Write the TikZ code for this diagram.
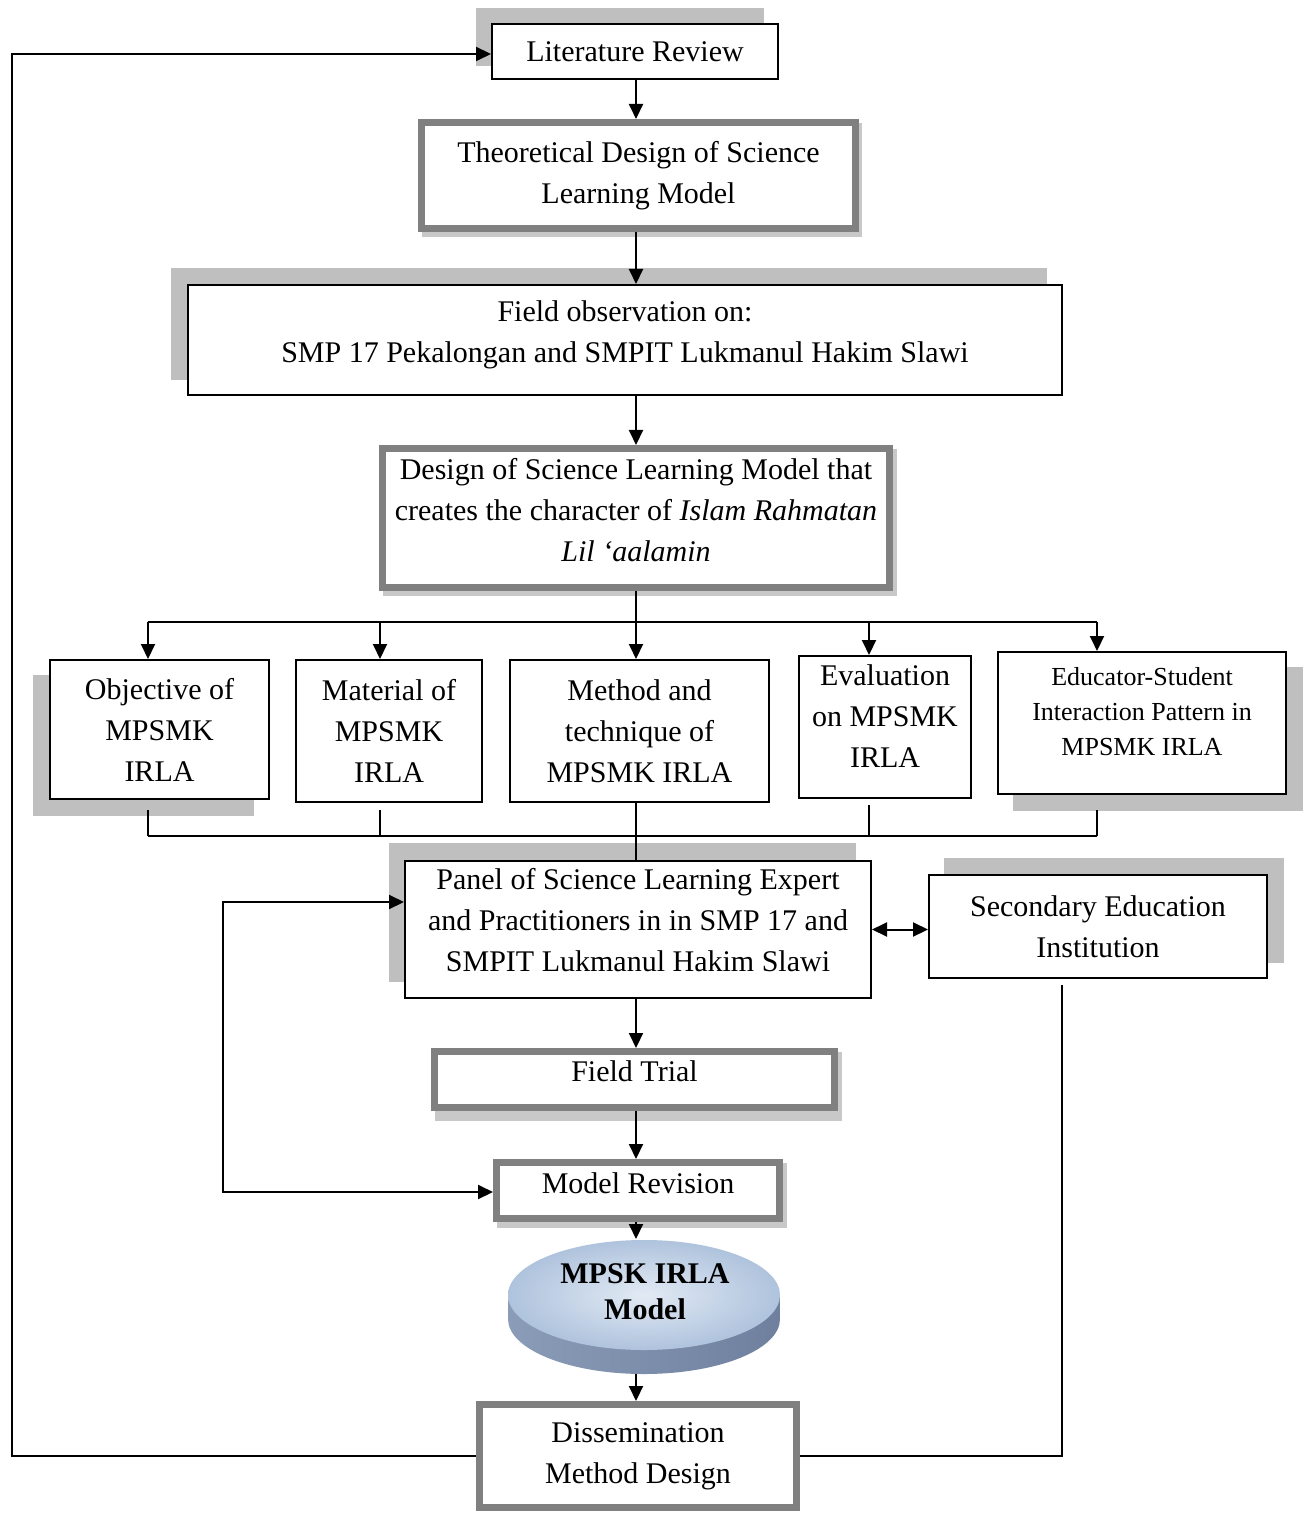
\documentclass[tikz,border=0pt]{standalone}
\usepackage{fontspec}
\setmainfont{Liberation Serif}
\usetikzlibrary{arrows.meta}
\definecolor{shadowgray}{HTML}{BFBFBF}
\definecolor{framegray}{HTML}{808080}
\definecolor{lightshade}{HTML}{C8C8C8}
\definecolor{cylTopIn}{HTML}{E2EAF4}
\definecolor{cylTopOut}{HTML}{AFC3DD}
\definecolor{cylSideL}{HTML}{8A9CB7}
\definecolor{cylSideM}{HTML}{5A6D8B}
\definecolor{cylSideR}{HTML}{6E809E}
\begin{document}
\begin{tikzpicture}[x=0.5pt,y=-0.5pt,
  txt/.style={font=\fontsize{15}{20.5}\selectfont, align=center, inner sep=0pt},
  thinbox/.style={txt, draw=black, line width=1pt, fill=white},
  thickbox/.style={txt, draw=framegray, line width=3.5pt, fill=white},
  shadowrect/.style={fill=shadowgray},
  lightrect/.style={fill=lightshade},
  tip/.tip={Triangle[length=7.5pt,width=7pt]},
  arr/.style={line width=1pt, -tip},
  dblarr/.style={line width=1pt, tip-tip},
  conn/.style={line width=1pt},
  thinconn/.style={line width=0.7pt}]
\useasboundingbox (0,0) rectangle (1308,1513);
\fill[white] (0,0) rectangle (1308,1513);

% shadows
\fill[shadowrect] (476,8) rectangle (764,66);
\fill[lightrect] (422,123) rectangle (862,237);
\fill[shadowrect] (171,268) rectangle (1047,380);
\fill[lightrect] (383,449) rectangle (897,596);
\fill[shadowrect] (33,675) rectangle (254,816);
\fill[shadowrect] (1013,667) rectangle (1303,811);
\fill[shadowrect] (389,843) rectangle (856,982);
\fill[shadowrect] (944,858) rectangle (1284,963);
\fill[lightrect] (435,1052) rectangle (842,1121);
\fill[lightrect] (497,1163) rectangle (787,1228);

% boxes
\node[thinbox, minimum width=143pt, minimum height=27.5pt] (lit) at (635,51.5) {Literature Review};
\node[thickbox, minimum width=217pt, minimum height=53pt] (theo) at (638.5,175.5) {Theoretical Design of Science\\Learning Model};
\node[thinbox, minimum width=437pt, minimum height=55pt, text depth=8pt] (field) at (625,340) {Field observation on:\\SMP 17 Pekalongan and SMPIT Lukmanul Hakim Slawi};
\node[thickbox, minimum width=253.5pt, minimum height=69.5pt, text depth=8pt] (design) at (636,518) {Design of Science Learning Model that\\creates the character of \textit{Islam Rahmatan}\\\textit{Lil ‘aalamin}};

\node[thinbox, minimum width=109.5pt, minimum height=69.5pt] (obj) at (159.5,729.5) {Objective of\\MPSMK\\IRLA};
\node[thinbox, minimum width=93pt, minimum height=71pt] (mat) at (389,731) {Material of\\MPSMK\\IRLA};
\node[thinbox, minimum width=129.5pt, minimum height=71pt] (meth) at (639.5,731) {Method and\\technique of\\MPSMK IRLA};
\node[thinbox, minimum width=86pt, minimum height=71pt, text depth=11pt] (eval) at (885,727) {Evaluation\\on MPSMK\\IRLA};
\node[thinbox, minimum width=144pt, minimum height=71pt, text depth=12pt, font=\fontsize{13}{17.5}\selectfont] (edu) at (1142,723) {Educator-Student\\Interaction Pattern in\\MPSMK IRLA};

\node[thinbox, minimum width=233pt, minimum height=68.5pt, text depth=9.5pt] (panel) at (638,929.5) {Panel of Science Learning Expert\\and Practitioners in in SMP 17 and\\SMPIT Lukmanul Hakim Slawi};
\node[thinbox, minimum width=169pt, minimum height=51.5pt] (sec) at (1098,926.5) {Secondary Education\\Institution};

\node[thickbox, minimum width=200pt, minimum height=28pt, text depth=8pt] (ft) at (634.5,1079.5) {Field Trial};
\node[thickbox, minimum width=141.5pt, minimum height=28pt, text depth=7pt] (mrev) at (638,1190.5) {Model Revision};

% cylinder
\shade[left color=cylSideL, middle color=cylSideM, right color=cylSideR]
  (508,1295) -- (508,1319) arc[start angle=180, end angle=360, x radius=68pt, y radius=27.5pt] -- (780,1295) -- cycle;
\shade[inner color=cylTopIn, outer color=cylTopOut] (644,1295) ellipse[x radius=68pt, y radius=27.5pt];
\node[font=\bfseries\fontsize{15}{18}\selectfont, align=center, inner sep=0pt] (cyl) at (645,1292) {MPSK IRLA\\Model};
\coordinate (cyltop) at (636,1239);
\coordinate (cylbot) at (636,1374);

\node[thickbox, minimum width=158.5pt, minimum height=51.5pt] (dis) at (638,1456) {Dissemination\\Method Design};

% connectors
\coordinate (col) at (636,0);
\draw[arr] (col |- lit.south) -- (col |- theo.north);
\draw[arr] (col |- theo.south) -- (col |- field.north);
\draw[arr] (col |- field.south) -- (col |- design.north);

\coordinate (hl) at (148,622);
\coordinate (am) at (380,622);
\coordinate (ae) at (869,622);
\coordinate (hr) at (1097,622);
\draw[conn] (hl) -- (hr);
\draw[arr] (col |- design.south) -- (col |- meth.north);
\draw[arr] (hl) -- (hl |- obj.north);
\draw[arr] (am) -- (am |- mat.north);
\draw[arr] (ae) -- (ae |- eval.north);
\draw[arr] (hr) -- (hr |- edu.north);

\coordinate (bl) at (148,836);
\coordinate (br) at (1097,836);
\draw[conn] (bl) -- (br);
\draw[thinconn] (148,810) -- (bl);
\draw[thinconn] (380,810) -- (am |- bl);
\draw[thinconn] (869,805) -- (ae |- bl);
\draw[thinconn] (1097,810) -- (br);
\draw[conn] (col |- meth.south) -- (col |- panel.north);

\draw[dblarr] (panel.east) -- (panel.east -| sec.west);

\draw[arr] (col |- panel.south) -- (col |- ft.north);
\draw[arr] (col |- ft.south) -- (col |- mrev.north);
\draw[arr] (col |- mrev.south) -- (cyltop);
\draw[arr] (cylbot) -- (col |- dis.north);

\coordinate (ll) at (12,1456);
\coordinate (lt) at (12,54);
\draw[arr] (dis.west) -- (ll) -- (lt) -- (lt -| lit.west);

\coordinate (rs) at (1062,985);
\draw[thinconn] (dis.east) -| (rs);

\coordinate (ia) at (223,902);
\coordinate (ib) at (223,1192);
\draw[dblarr] (ia -| panel.west) -- (ia) -- (ib) -- (ib -| mrev.west);
\end{tikzpicture}
\end{document}
